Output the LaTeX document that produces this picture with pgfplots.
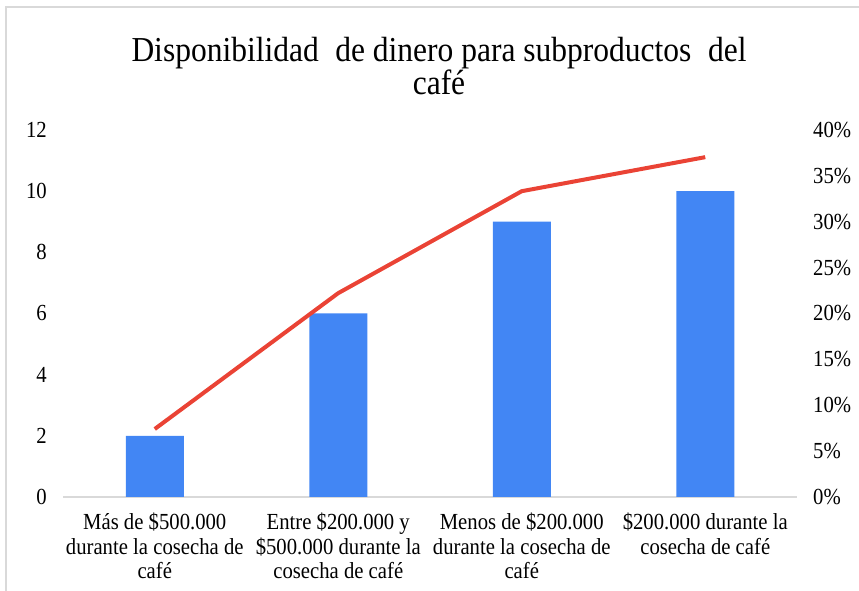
\documentclass[border=0pt]{standalone}
\usepackage{fontspec}
\setmainfont{Liberation Serif}
\newfontfamily\condfont[FakeStretch=0.9]{Liberation Serif}
\usepackage{pgfplots}
\pgfplotsset{compat=1.18}
\definecolor{barblue}{RGB}{66,134,244}
\definecolor{linered}{RGB}{234,67,53}
\definecolor{axgray}{RGB}{217,217,217}
\begin{document}
\begin{tikzpicture}[x=1pt,y=1pt]
\useasboundingbox (0,0) rectangle (859,591);
\draw[axgray, line width=1.5pt] (6,-10) -- (6,584) -- (870,584);
\node[anchor=base, font=\condfont\fontsize{35}{38}\selectfont] at (439,529) {Disponibilidad\hspace{0.25em} de dinero para subproductos\hspace{0.25em} del};
\node[anchor=base, font=\condfont\fontsize{35}{38}\selectfont] at (439,496) {café};
\begin{axis}[
  at={(63pt,94pt)}, anchor=south west,
  scale only axis, width=734pt, height=367pt,
  xmin=-0.5, xmax=3.5, ymin=0, ymax=12,
  axis x line*=bottom, axis y line*=left,
  x axis line style={axgray, line width=1.5pt, -},
  y axis line style={draw=none},
  major tick length=0pt,
  ytick={0,2,...,12},
  xtick={0,1,2,3},
  xticklabels={{Más de \$500.000\\durante la cosecha de\\café},{Entre \$200.000 y\\\$500.000 durante la\\cosecha de café},{Menos de \$200.000\\durante la cosecha de\\café},{\$200.000 durante la\\cosecha de café}},
  tick label style={font=\condfont\fontsize{23}{24.5}\selectfont},
  /pgf/number format/assume math mode=true,
  yticklabel style={inner sep=0pt, xshift=-16pt},
  xticklabel style={align=center, inner sep=0pt, yshift=-16pt},
]
\addplot[ybar, bar width=58pt, fill=barblue, draw=none] coordinates {(0,2) (1,6) (2,9) (3,10)};
\end{axis}
\begin{axis}[
  at={(63pt,94pt)}, anchor=south west,
  scale only axis, width=734pt, height=367pt,
  xmin=-0.5, xmax=3.5, ymin=0, ymax=40,
  axis x line=none, axis y line*=right,
  y axis line style={draw=none},
  major tick length=0pt,
  ytick={0,5,...,40},
  yticklabel={\pgfmathprintnumber{\tick}\%},
  tick label style={font=\condfont\fontsize{23}{24.5}\selectfont},
  /pgf/number format/assume math mode=true,
  yticklabel style={inner sep=0pt, xshift=16pt},
]
\addplot[linered, line width=4pt] coordinates {(0,7.41) (1,22.22) (2,33.33) (3,37.04)};
\end{axis}
\end{tikzpicture}
\end{document}
